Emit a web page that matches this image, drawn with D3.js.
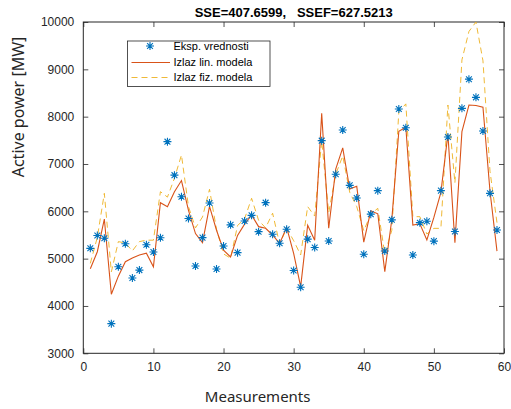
<!DOCTYPE html>
<html>
<head>
<meta charset="utf-8">
<script src="https://cdn.jsdelivr.net/npm/d3@7"></script>
<style>
  body { margin: 0; background: #fff; }
  svg { font-family: "Liberation Sans", Arial, sans-serif; }
</style>
</head>
<body>
<svg id="svg-chart"></svg>
<script>
const measurements = d3.range(1, 60);

const eksp = [5218, 5490, 5430, 3627, 4830, 5315, 4590, 4758, 5295, 5140,
  5442, 7472, 6764, 6309, 5848, 4843, 5444, 6176, 4782, 5268,
  5714, 5127, 5796, 5915, 5570, 6183, 5514, 5324, 5620, 4750,
  4394, 5412, 5236, 7493, 5373, 6782, 7718, 6549, 6280, 5092,
  5940, 6437, 5160, 5820, 8162, 7765, 5077, 5760, 5790, 5370,
  6437, 7570, 5574, 8176, 8792, 8408, 7697, 6380, 5606];

const linModel = [4787, 5146, 5837, 4247, 4630, 4935, 5015, 5075, 5115, 4828,
  6182, 6098, 6415, 6650, 6020, 5530, 5338, 6105, 5600, 5180,
  5035, 5490, 5730, 5925, 5676, 5641, 5500, 5320, 5662, 5113,
  4408, 5705, 5390, 8070, 5641, 6890, 7340, 6470, 6528, 5350,
  6010, 5948, 4725, 5828, 7690, 7778, 5711, 5736, 5394, 5870,
  6400, 7630, 5338, 7683, 8246, 8235, 8200, 6430, 5160];

const fizModel = [4900, 5450, 6380, 4720, 5360, 5330, 5165, 5360, 5390, 5390,
  6415, 6300, 6700, 7190, 6100, 5650, 5880, 6465, 5620, 5100,
  5010, 5700, 5840, 6275, 5810, 5650, 5960, 5310, 5640, 5380,
  5077, 6099, 5900, 7490, 5970, 6780, 7170, 6400, 6099, 5590,
  5940, 6063, 5100, 5600, 8100, 8270, 5887, 5887, 5520, 5640,
  5640, 8246, 6600, 9200, 9800, 10000, 9180, 6850, 5760];

const xTicks = [0, 10, 20, 30, 40, 50, 60];
const yTicks = [3000, 4000, 5000, 6000, 7000, 8000, 9000, 10000];
const legendLabels = ["Eksp. vrednosti", "Izlaz lin. modela", "Izlaz fiz. modela"];

const width = 511;
const height = 409;
const margin = { left: 83.3, right: 7, top: 22, bottom: 55.7 };
const plotWidth = width - margin.left - margin.right;
const plotHeight = height - margin.top - margin.bottom;

const blue = "#0072BD";
const red = "#D95319";
const yellow = "#EDB120";

const svg = d3.select("#svg-chart").attr("width", width).attr("height", height);

const xScale = d3.scaleLinear().domain([0, 60]).range([0, plotWidth]);
const yScale = d3.scaleLinear().domain([3000, 10000]).range([plotHeight, 0]);

const g = svg.append("g")
  .attr("transform", "translate(" + margin.left + "," + margin.top + ")");

g.append("defs").append("clipPath").attr("id", "clip")
  .append("rect").attr("width", plotWidth).attr("height", plotHeight);

// axes (matlab-like ticks pointing inward)
function styleAxis(sel) {
  sel.select(".domain").remove();
  sel.selectAll(".tick line").attr("stroke", "#262626").attr("stroke-width", 0.8);
  sel.selectAll(".tick text").attr("fill", "#262626").attr("font-size", 12);
}

g.append("g")
  .attr("transform", "translate(0," + plotHeight + ")")
  .call(d3.axisBottom(xScale).tickValues(xTicks).tickSizeInner(-5).tickSizeOuter(0).tickPadding(9).tickFormat(d3.format("d")))
  .call(styleAxis);

g.append("g")
  .call(d3.axisTop(xScale).tickValues(xTicks).tickSizeInner(-5).tickSizeOuter(0).tickFormat(""))
  .call(styleAxis);

g.append("g")
  .call(d3.axisLeft(yScale).tickValues(yTicks).tickSizeInner(-5).tickSizeOuter(0).tickPadding(9).tickFormat(d3.format("d")))
  .call(styleAxis);

g.append("g")
  .attr("transform", "translate(" + plotWidth + ",0)")
  .call(d3.axisRight(yScale).tickValues(yTicks).tickSizeInner(-5).tickSizeOuter(0).tickFormat(""))
  .call(styleAxis);

g.append("rect")
  .attr("width", plotWidth)
  .attr("height", plotHeight)
  .attr("fill", "none")
  .attr("stroke", "#262626")
  .attr("stroke-width", 1);

const line = d3.line()
  .x(function (d, i) { return xScale(measurements[i]); })
  .y(function (d) { return yScale(d); });

const plot = g.append("g").attr("clip-path", "url(#clip)");

plot.append("path")
  .datum(fizModel)
  .attr("d", line)
  .attr("fill", "none")
  .attr("stroke", yellow)
  .attr("stroke-width", 0.9)
  .attr("stroke-dasharray", "6,4");

plot.append("path")
  .datum(linModel)
  .attr("d", line)
  .attr("fill", "none")
  .attr("stroke", red)
  .attr("stroke-width", 1.1);

// asterisk marker
const starPath = "M-4,0L4,0M0,-4L0,4M-2.9,-2.9L2.9,2.9M-2.9,2.9L2.9,-2.9";

plot.selectAll(".star")
  .data(eksp)
  .join("path")
  .attr("class", "star")
  .attr("transform", function (d, i) {
    return "translate(" + xScale(measurements[i]) + "," + yScale(d) + ")";
  })
  .attr("d", starPath)
  .attr("stroke", blue)
  .attr("stroke-width", 1.1)
  .attr("fill", "none");

// legend
const legend = svg.append("g").attr("transform", "translate(127.5,41)");
legend.append("rect")
  .attr("width", 142.5)
  .attr("height", 45.5)
  .attr("fill", "#fff")
  .attr("stroke", "#262626")
  .attr("stroke-width", 0.8);

const rowY = [5, 21.5, 36.5];
legendLabels.forEach(function (label, i) {
  if (i === 0) {
    legend.append("path")
      .attr("transform", "translate(22.5," + rowY[i] + ")")
      .attr("d", starPath)
      .attr("stroke", blue)
      .attr("stroke-width", 1.1)
      .attr("fill", "none");
  } else {
    legend.append("line")
      .attr("x1", 4).attr("x2", 42.5)
      .attr("y1", rowY[i]).attr("y2", rowY[i])
      .attr("stroke", i === 1 ? red : yellow)
      .attr("stroke-width", i === 1 ? 1.1 : 0.9)
      .attr("stroke-dasharray", i === 1 ? null : "6,4");
  }
  legend.append("text")
    .attr("x", 46)
    .attr("y", rowY[i])
    .attr("dy", "0.35em")
    .attr("font-size", 11)
    .attr("fill", "#000")
    .text(label);
});

// title and labels
svg.append("text")
  .attr("x", margin.left + plotWidth / 2)
  .attr("y", 17)
  .attr("text-anchor", "middle")
  .attr("font-size", 13)
  .attr("font-weight", "bold")
  .attr("fill", "#000")
  .attr("xml:space", "preserve")
  .text("SSE=407.6599,   SSEF=627.5213");

svg.append("text")
  .attr("x", margin.left + plotWidth / 2 - 36)
  .attr("y", 402)
  .attr("text-anchor", "middle")
  .attr("font-size", 15)
  .attr("font-family", "'Noto Sans', sans-serif")
  .attr("fill", "#262626")
  .text("Measurements");

svg.append("text")
  .attr("transform", "translate(24,107) rotate(-90)")
  .attr("text-anchor", "middle")
  .attr("font-size", 16)
  .attr("font-family", "'Noto Sans', sans-serif")
  .attr("fill", "#262626")
  .text("Active power [MW]");
</script>
</body>
</html>
